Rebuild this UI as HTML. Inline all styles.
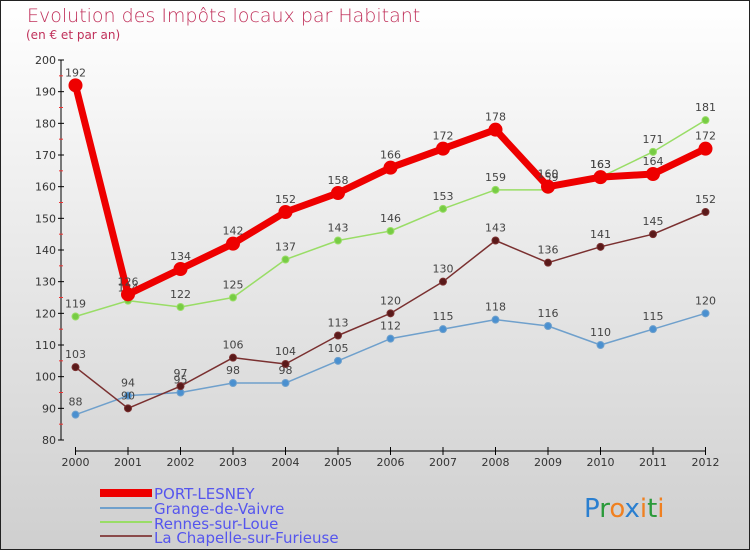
<!DOCTYPE html>
<html><head><meta charset="utf-8"><style>
html,body{margin:0;padding:0}
body{width:750px;height:550px;overflow:hidden;font-family:"DejaVu Sans","Liberation Sans",sans-serif}
#wrap{position:absolute;left:0;top:0;width:748px;height:548px;border:1px solid #222;background:linear-gradient(#ffffff,#cfcfcf)}
</style></head><body>
<div id="wrap">
<svg id="chart" width="750" height="550" style="position:absolute;left:-1px;top:-1px">
<text x="27" y="22" font-size="19" fill="#c0305a" font-family="DejaVu Sans, sans-serif" font-weight="200">Evolution des Impôts locaux par Habitant</text>
<text x="26" y="39" font-size="12" fill="#c0305a">(en € et par an)</text>
<g id="axes"></g>
<g id="series"></g>
<g id="legend" font-size="15" fill="#5555ee">
<rect x="100" y="489" width="52" height="8" fill="#ee0000"/>
<text x="154" y="499">PORT-LESNEY</text>
<rect x="100" y="507" width="52" height="2" fill="#6fa0cc"/>
<text x="154" y="514">Grange-de-Vaivre</text>
<rect x="100" y="521" width="52" height="2" fill="#99dd66"/>
<text x="154" y="529">Rennes-sur-Loue</text>
<rect x="100" y="535" width="52" height="2" fill="#8a4a4a"/>
<text x="154" y="543">La Chapelle-sur-Furieuse</text>
</g>
<g font-size="26" font-family="DejaVu Sans, sans-serif">
<text x="584" y="517"><tspan fill="#2a7fd0">P</tspan><tspan fill="#2a9a3a">r</tspan><tspan fill="#f08020">o</tspan><tspan fill="#2a7fd0">x</tspan><tspan fill="#f08020">i</tspan><tspan fill="#2a9a3a">t</tspan><tspan fill="#f08020">i</tspan></text>
</g>
</svg>
</div>
<script>
const years=[2000,2001,2002,2003,2004,2005,2006,2007,2008,2009,2010,2011,2012];
const yTicks=[80,90,100,110,120,130,140,150,160,170,180,190,200];
const portLesney=[192,126,134,142,152,158,166,172,178,160,163,164,172];
const grange=[88,94,95,98,98,105,112,115,118,116,110,115,120];
const rennes=[119,124,122,125,137,143,146,153,159,159,163,171,181];
const chapelle=[103,90,97,106,104,113,120,130,143,136,141,145,152];
const NS="http://www.w3.org/2000/svg";
const x0=75.5,x1=705.5,yBase=440,yTop=60,vMin=80,vMax=200;
function xs(i){return x0+(x1-x0)*i/(years.length-1);}
function ys(v){return yBase-(v-vMin)*(yBase-yTop)/(vMax-vMin);}
function mk(tag,attrs,parent){const e=document.createElementNS(NS,tag);for(const k in attrs)e.setAttribute(k,attrs[k]);parent.appendChild(e);return e;}
const axes=document.getElementById('axes');
let e=mk('line',{x1:61,y1:ys(200),x2:61,y2:ys(80),stroke:'#000','stroke-width':1},axes);


e=mk('line',{x1:x0,y1:451,x2:x1,y2:451,stroke:'#000','stroke-width':1},axes);


yTicks.forEach(v=>{
  mk('line',{x1:58,y1:ys(v),x2:64,y2:ys(v),stroke:'#000'},axes);
  if(v<200){mk('line',{x1:59,y1:ys(v+5),x2:63,y2:ys(v+5),stroke:'#e33'},axes);}
  const t=mk('text',{x:56,y:ys(v)+4,'font-size':11,'text-anchor':'end',fill:'#333'},axes);
  t.textContent=v;
  
  
});
years.forEach((yr,i)=>{
  mk('line',{x1:xs(i),y1:447,x2:xs(i),y2:455,stroke:'#000'},axes);
  const t=mk('text',{x:xs(i),y:466,'font-size':11,'text-anchor':'middle',fill:'#333'},axes);
  t.textContent=yr;
  
  
});
const sg=document.getElementById('series');
function draw(vals,color,w,r,name,dot){
  const pts=vals.map((v,i)=>xs(i)+','+ys(v)).join(' ');
  const l=mk('polyline',{points:pts,fill:'none',stroke:color,'stroke-width':w,'stroke-linejoin':'round'},sg);
  
  
  vals.forEach((v,i)=>{
    const c=mk('circle',{cx:xs(i),cy:ys(v),r:r,fill:dot,stroke:color,'stroke-width':1},sg);
    
    
    const t=mk('text',{x:xs(i),y:ys(v)-9,'font-size':11,'text-anchor':'middle',fill:'#444'},sg);
    t.textContent=v;
    
    
  });
}
draw(grange,'#6fa0cc',1.5,3.5,'grange','#4a90d0');
draw(chapelle,'#7a3030',1.5,3.5,'chapelle','#5a1a1a');
draw(rennes,'#99dd66',1.5,3.5,'rennes','#77cc44');
draw(portLesney,'#ee0000',7,6.5,'port-lesney','#ee0000');
</script>
</body></html>
